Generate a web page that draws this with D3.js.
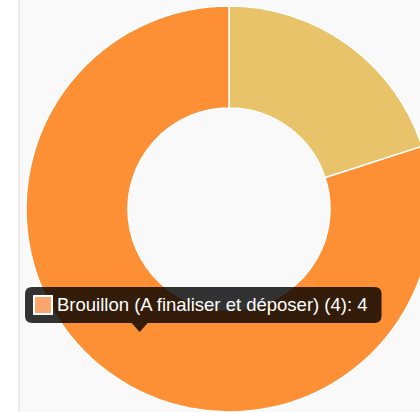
<!DOCTYPE html>
<html>
<head>
<meta charset="utf-8">
<script src="https://cdn.jsdelivr.net/npm/d3@7"></script>
<style>
  html, body { margin: 0; padding: 0; background: #ffffff; overflow: hidden; }
  svg { display: block; }
</style>
</head>
<body>
<svg id="chart" width="420" height="412"></svg>
<script>
// Dossier statuses and their counts
const categories = ["Déposé (En cours d'instruction)", "Brouillon (A finaliser et déposer)"];
const values = [1, 4];
const colors = ["#E8C36A", "#FD8F34"];
const hoverColors = ["#EFD08A", "#F8A66B"];

// Slice whose tooltip is shown
const activeIndex = 1;

const W = 420, H = 412;
const cx = 229, cy = 209;
const outerR = 203, innerR = 101;

const svg = d3.select("#chart");

// Page panel: white strip, divider, light grey card
svg.append("rect").attr("width", W).attr("height", H).attr("fill", "#ffffff");
svg.append("rect").attr("x", 18).attr("width", 2).attr("height", H).attr("fill", "#ebebeb");
svg.append("rect").attr("x", 20).attr("width", W - 20).attr("height", H).attr("fill", "#f9f9f9");

const data = categories.map((c, i) => ({ label: c, value: values[i], color: colors[i], hover: hoverColors[i] }));

const pie = d3.pie().value(d => d.value).sort(null);
const arcs = pie(data);
const arc = d3.arc().innerRadius(innerR).outerRadius(outerR);

const g = svg.append("g").attr("transform", `translate(${cx},${cy})`);
g.selectAll("path")
  .data(arcs)
  .join("path")
  .attr("d", arc)
  .attr("fill", d => d.data.color)
  .attr("stroke", "#ffffff")
  .attr("stroke-width", 1.5);

// Tooltip anchored at the centroid of the active slice
const a = arcs[activeIndex];
const [tx, ty] = arc.centroid(a);
const tipX = cx + tx, tipY = cy + ty;

const fontSize = 18.5;
const pad = 9;
const boxSize = 18;
const text = `${a.data.label} (${a.data.value}): ${a.data.value}`;

const tip = svg.append("g");
const label = tip.append("text")
  .attr("font-family", "'Helvetica Neue', Helvetica, Arial, 'Liberation Sans', sans-serif")
  .attr("font-size", fontSize)
  .attr("fill", "#ffffff")
  .text(text);
const textW = label.node().getComputedTextLength();

const caretH = 8, caretW = 8;
const boxH = 36;
const boxW = pad + boxSize + 5 + textW + 14;
const boxY = tipY - caretH - 1 - boxH;
const boxX = Math.max(25, Math.min(W - boxW - 5, tipX - boxW / 2));

const r = 7;
const p = d3.path();
p.moveTo(boxX + r, boxY);
p.lineTo(boxX + boxW - r, boxY);
p.quadraticCurveTo(boxX + boxW, boxY, boxX + boxW, boxY + r);
p.lineTo(boxX + boxW, boxY + boxH - r);
p.quadraticCurveTo(boxX + boxW, boxY + boxH, boxX + boxW - r, boxY + boxH);
p.lineTo(tipX + caretW, boxY + boxH);
p.lineTo(tipX, boxY + boxH + caretH + 1);
p.lineTo(tipX - caretW, boxY + boxH);
p.lineTo(boxX + r, boxY + boxH);
p.quadraticCurveTo(boxX, boxY + boxH, boxX, boxY + boxH - r);
p.lineTo(boxX, boxY + r);
p.quadraticCurveTo(boxX, boxY, boxX + r, boxY);
p.closePath();

tip.insert("path", "text")
  .attr("d", p.toString())
  .attr("fill", "rgba(0,0,0,0.8)");

// Colour swatch with white border
const sx = boxX + pad, sy = boxY + (boxH - boxSize) / 2;
tip.insert("rect", "text")
  .attr("x", sx).attr("y", sy).attr("width", boxSize).attr("height", boxSize)
  .attr("fill", a.data.hover)
  .attr("stroke", "#ffffff").attr("stroke-width", 2);

label.attr("x", sx + boxSize + 5).attr("y", boxY + boxH / 2 + fontSize * 0.35);
</script>
</body>
</html>
